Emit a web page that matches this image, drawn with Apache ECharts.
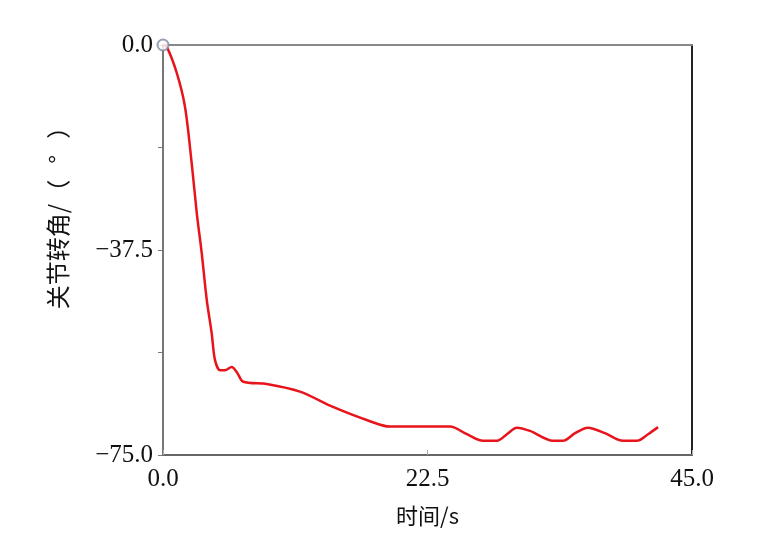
<!DOCTYPE html>
<html>
<head>
<meta charset="utf-8">
<script src="https://cdn.jsdelivr.net/npm/echarts@6/dist/echarts.min.js"></script>
<style>
  html, body { margin: 0; padding: 0; background: #fff; }
  #chart { width: 760px; height: 553px; }
</style>
</head>
<body>
<div id="chart"></div>
<script>
// 时间 (s)
const timeS = [0, 0.31, 1.17, 1.87, 2.44, 2.87, 3.29, 3.72, 4.14, 4.42, 4.85, 5.27, 5.84, 6.27, 6.83,
  8.82, 11.65, 14.46, 17.33, 19.31, 21.86, 24.41, 25.86, 27.22, 28.41, 29.26, 30.09, 31.22,
  33.17, 34.03, 35.05, 36.15, 37.6, 39.13, 40.32, 41.26, 42.11];
// 关节转角 (°)
const jointAngle = [0, -0.3, -5.1, -11.3, -21.6, -30.7, -38.0, -46.6, -52.7, -57.6, -59.5, -59.5, -58.9, -59.8, -61.6,
  -62.0, -63.4, -66.2, -68.6, -69.8, -69.8, -69.8, -71.2, -72.4, -72.4, -71.2, -70.0, -70.6,
  -72.4, -72.4, -71.0, -70.0, -71.0, -72.4, -72.4, -71.2, -69.9];
// 起点圆圈
const startMarker = [[0, 0]];

const xTicks = [0, 22.5, 45];
const yLabeled = [0, -37.5, -75];

const fmt = v => (v < 0 ? '\u2212' : '') + Math.abs(v).toFixed(1);

const chart = echarts.init(document.getElementById('chart'));
const serif = '"Liberation Serif", "DejaVu Serif", serif';
const cjk = '"Noto Sans CJK SC", "Liberation Serif", serif';

chart.setOption({
  animation: false,
  backgroundColor: '#fff',
  grid: { left: 163, top: 45, right: 68, bottom: 98 },
  xAxis: [{
    type: 'value', min: 0, max: 45, interval: 22.5,
    name: '时间/s', nameLocation: 'middle', nameGap: 50,
    nameTextStyle: { fontFamily: cjk, fontSize: 22, color: '#111' },
    axisLine: { onZero: false, lineStyle: { color: '#666', width: 2 } },
    axisTick: { show: true, inside: true, length: 5, lineStyle: { color: '#aaa' } },
    axisLabel: {
      margin: 12, fontFamily: serif, fontSize: 25, color: '#111',
      formatter: v => xTicks.includes(v) ? v.toFixed(1) : ''
    },
    splitLine: { show: false }
  }, {
    type: 'value', position: 'top', min: 0, max: 45,
    axisLine: { show: true, onZero: false, lineStyle: { color: '#888', width: 2 } },
    axisTick: { show: false }, axisLabel: { show: false }, splitLine: { show: false }
  }],
  yAxis: [{
    type: 'value', min: -75, max: 0, interval: 18.75,
    name: '关节转角/（   °   ）', nameLocation: 'middle', nameGap: 93, nameRotate: 90,
    nameTextStyle: { fontFamily: cjk, fontSize: 24, color: '#111', padding: [0, 0, 0, 76] },
    axisLine: { show: true, onZero: false, lineStyle: { color: '#777', width: 2 } },
    axisTick: { show: true, inside: false, length: 5, lineStyle: { color: '#777' } },
    axisLabel: {
      margin: 10, fontFamily: serif, fontSize: 25, color: '#111',
      formatter: v => yLabeled.includes(v) ? fmt(v) : ''
    },
    splitLine: { show: false }
  }, {
    type: 'value', position: 'right', min: -75, max: 0,
    axisLine: { show: true, onZero: false, lineStyle: { color: '#222', width: 2 } },
    axisTick: { show: false }, axisLabel: { show: false }, splitLine: { show: false }
  }],
  series: [{
    type: 'line',
    data: timeS.map((t, i) => [t, jointAngle[i]]),
    smooth: 0.3,
    showSymbol: false,
    lineStyle: { color: '#e8141c', width: 2.5 },
    z: 3
  }, {
    type: 'scatter',
    data: startMarker,
    clip: false,
    symbol: 'emptyCircle',
    symbolSize: 11,
    itemStyle: { color: '#7d8aa0', borderColor: '#7d8aa0', borderWidth: 1.5 },
    z: 4
  }]
});
</script>
</body>
</html>
